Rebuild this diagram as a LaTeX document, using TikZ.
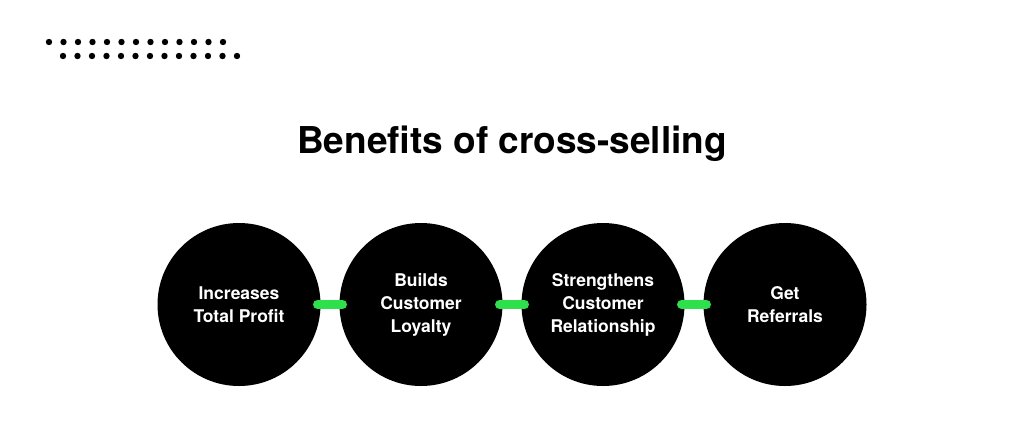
\documentclass[tikz,border=0pt]{standalone}
\usepackage{fontspec}
\setmainfont{TeX Gyre Heros}
\usetikzlibrary{positioning}

\tikzset{
  benefit/.style={circle, fill=black, minimum size=163pt, inner sep=0pt, outer sep=0pt,
    text=white, align=center, font=\fontsize{17.5}{23}\selectfont\bfseries},
  link/.style={draw=linkgreen, line width=9pt, line cap=round},
  dotmark/.style={fill=black}
}
\definecolor{linkgreen}{RGB}{46,224,76}

\begin{document}
\begin{tikzpicture}[x=1pt, y=-1pt]
    % Fondo
    \fill[white] (0,0) rectangle (1024,440);
    \useasboundingbox (0,0) rectangle (1024,440);

    % Puntos
    \foreach \i in {0,...,12} {
        \fill[dotmark] (49+14.5*\i, 42) circle (3.2);
        \fill[dotmark] (63+14.5*\i, 56) circle (3.2);
    }

    % Titulo
    \node[anchor=base, font=\fontsize{37}{44}\selectfont\bfseries] (title) at (512,153) {Benefits of cross-selling};

    % Circulos
    \node[benefit] (profit) at (239,304.5) {Increases\\Total Profit};
    \node[benefit, right=19pt of profit] (loyalty) {Builds\\Customer\\Loyalty};
    \node[benefit, right=19pt of loyalty] (relation) {Strengthens\\Customer\\Relationship};
    \node[benefit, right=19pt of relation] (referral) {Get\\Referrals};

    % Lineas verdes
    \draw[link] ([xshift=-3pt]profit.east) -- ([xshift=3pt]loyalty.west);
    \draw[link] ([xshift=-3pt]loyalty.east) -- ([xshift=3pt]relation.west);
    \draw[link] ([xshift=-3pt]relation.east) -- ([xshift=3pt]referral.west);
\end{tikzpicture}
\end{document}
